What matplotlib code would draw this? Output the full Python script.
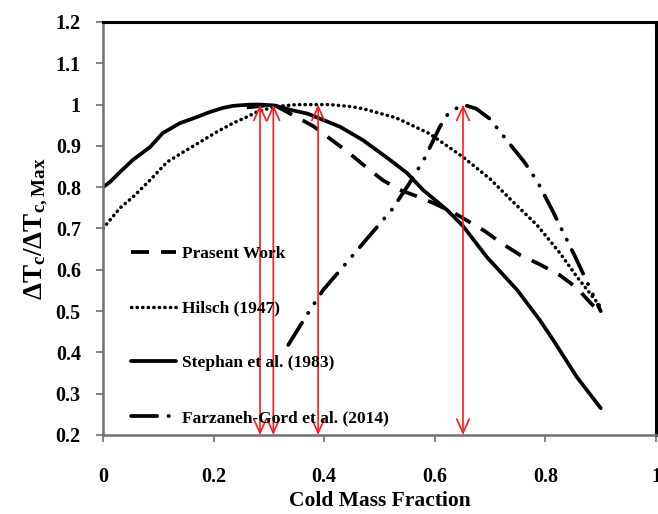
import matplotlib
matplotlib.use("Agg")
import matplotlib.pyplot as plt

plt.rcParams["font.family"] = ["Liberation Serif", "DejaVu Serif"]
plt.rcParams["font.weight"] = "bold"
plt.rcParams["mathtext.fontset"] = "custom"
plt.rcParams["mathtext.rm"] = "Liberation Serif:bold"
plt.rcParams["mathtext.bf"] = "Liberation Serif:bold"
plt.rcParams["mathtext.it"] = "Liberation Serif:bold"

# Present Work (CFD)
present_x = [0.26, 0.308, 0.347, 0.38, 0.414, 0.443, 0.47, 0.506, 0.537, 0.57, 0.60,
             0.636, 0.67, 0.69, 0.72, 0.754, 0.79, 0.826, 0.857, 0.88, 0.90]
present_y = [0.993, 1.0, 0.972, 0.948, 0.914, 0.885, 0.855, 0.817, 0.793, 0.777, 0.76,
             0.737, 0.71, 0.694, 0.665, 0.636, 0.613, 0.587, 0.556, 0.522, 0.495]

# Hilsch (1947)
hilsch_x = [0.0, 0.031, 0.054, 0.085, 0.116, 0.145, 0.175, 0.206, 0.235, 0.26, 0.278,
            0.31, 0.35, 0.389, 0.41, 0.45, 0.47, 0.53, 0.59, 0.651, 0.70, 0.741, 0.785,
            0.826, 0.857, 0.90]
hilsch_y = [0.70, 0.75, 0.776, 0.817, 0.861, 0.885, 0.909, 0.934, 0.955, 0.970, 0.982,
            0.995, 1.0, 1.0, 1.0, 0.995, 0.99, 0.968, 0.93, 0.873, 0.82, 0.765, 0.708,
            0.641, 0.583, 0.51]

# Stephan et al. (1983)
stephan_x = [0.0, 0.013, 0.031, 0.054, 0.085, 0.108, 0.139, 0.17, 0.193, 0.217, 0.235,
             0.266, 0.284, 0.31, 0.34, 0.37, 0.40, 0.429, 0.47, 0.519, 0.55, 0.579,
             0.622, 0.651, 0.694, 0.749, 0.79, 0.814, 0.857, 0.90]
stephan_y = [0.80, 0.813, 0.837, 0.866, 0.897, 0.931, 0.955, 0.970, 0.982, 0.992, 0.997,
             1.0, 1.0, 0.998, 0.987, 0.978, 0.962, 0.946, 0.914, 0.866, 0.834, 0.793,
             0.745, 0.706, 0.631, 0.551, 0.478, 0.430, 0.340, 0.265]

# Farzaneh-Gord et al. (2014)
farzaneh_x = [0.335, 0.365, 0.398, 0.434, 0.474, 0.522, 0.552, 0.582, 0.595, 0.609,
              0.625, 0.651, 0.675, 0.70, 0.718, 0.763, 0.787, 0.814, 0.854, 0.90]
farzaneh_y = [0.418, 0.483, 0.551, 0.607, 0.67, 0.745, 0.805, 0.871, 0.907, 0.946,
              0.98, 1.0, 0.99, 0.965, 0.934, 0.859, 0.81, 0.74, 0.631, 0.50]

# Cold mass fraction at which each curve peaks
peak_x = [0.284, 0.308, 0.389, 0.651]
peak_top = 1.0
peak_bottom = 0.2

x_ticks = [0, 0.2, 0.4, 0.6, 0.8, 1]
x_tick_labels = ["0", "0.2", "0.4", "0.6", "0.8", "1"]
y_ticks = [0.2, 0.3, 0.4, 0.5, 0.6, 0.7, 0.8, 0.9, 1.0, 1.1, 1.2]
y_tick_labels = ["0.2", "0.3", "0.4", "0.5", "0.6", "0.7", "0.8", "0.9", "1", "1.1", "1.2"]

fig = plt.figure(figsize=(6.58, 5.14), dpi=100)
ax = fig.add_axes([0.1565, 0.1537, 0.8405, 0.8035])

lw = 2.7
l1, = ax.plot(present_x, present_y, color="black", lw=lw, dashes=(4.8, 3.2),
              dash_capstyle="butt", label="Prasent Work")
l2, = ax.plot(hilsch_x, hilsch_y, color="black", lw=2.5, dashes=(0.1, 1.5),
              dash_capstyle="round", label="Hilsch (1947)")
l3, = ax.plot(stephan_x, stephan_y, color="black", lw=lw, solid_joinstyle="round",
              solid_capstyle="round", label="Stephan et al. (1983)")
l4, = ax.plot(farzaneh_x, farzaneh_y, color="black", lw=lw,
              dashes=(7.0, 3.0, 0.1, 3.0, 0.1, 3.0), dash_capstyle="round",
              label="Farzaneh-Gord et al. (2014)")

for px in peak_x:
    ax.annotate("", xy=(px, peak_top), xytext=(px, peak_bottom),
                arrowprops=dict(arrowstyle="<->,head_length=1.0,head_width=0.45",
                                color="#ff1a1a", lw=1.2, mutation_scale=10,
                                shrinkA=0, shrinkB=0))

ax.set_xlim(0, 1)
ax.set_ylim(0.2, 1.2)
ax.set_xticks(x_ticks)
ax.set_xticklabels(x_tick_labels)
ax.set_yticks(y_ticks)
ax.set_yticklabels(y_tick_labels)
ax.tick_params(axis="both", direction="out", length=5, width=1.2, color="#707070",
               labelsize=14.5)
ax.tick_params(axis="x", pad=18)
ax.tick_params(axis="y", pad=11)

for side in ("left", "bottom"):
    ax.spines[side].set_color("#707070")
    ax.spines[side].set_linewidth(1.8)
for side in ("top", "right"):
    ax.spines[side].set_color("black")
    ax.spines[side].set_linewidth(2.2)

ax.set_xlabel("Cold Mass Fraction", fontsize=15.5, fontweight="bold", labelpad=3)
ax.set_ylabel(r"$\mathbf{\Delta T_c/\Delta T_{c,Max}}$", fontsize=19.5, labelpad=4)

leg = ax.legend(handles=[l1, l2, l3, l4], loc="upper left",
                bbox_to_anchor=(0.05, 0.458), frameon=False, fontsize=12.5,
                handlelength=2.6, handletextpad=0.35, labelspacing=2.22,
                borderpad=0, borderaxespad=0)
for t in leg.get_texts():
    t.set_fontweight("bold")

fig.savefig("out.png", dpi=100)
